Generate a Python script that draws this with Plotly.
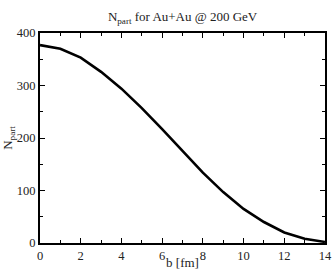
import plotly.graph_objects as go

b_fm = [0, 1, 2, 3, 4, 5, 6, 7, 8, 9, 10, 11, 12, 13, 14]
n_part = [377, 370, 353, 326, 294, 257, 217, 175, 134, 97, 65, 40, 20, 8, 2]

font = "Liberation Serif"

fig = go.Figure()
fig.add_trace(go.Scatter(x=b_fm, y=n_part, mode="lines",
                         line=dict(color="black", width=2.6), showlegend=False))

axis_common = dict(showgrid=False, zeroline=False, showline=True, linecolor="black",
                   linewidth=2, mirror="allticks", ticks="inside", ticklen=5,
                   tickwidth=1.3, tickcolor="black", automargin=False,
                   tickfont=dict(family=font, size=12.5, color="#222"))

fig.update_xaxes(range=[0, 14], dtick=2, tick0=0,
                 minor=dict(dtick=1, ticks="inside", ticklen=3, tickwidth=1.3, tickcolor="black"),
                 title=dict(text="b [fm]", font=dict(family=font, size=13, color="#222"), standoff=0),
                 **axis_common)
fig.update_yaxes(range=[0, 400], dtick=100, tick0=0,
                 minor=dict(dtick=50, ticks="inside", ticklen=3, tickwidth=1.3, tickcolor="black"),
                 title=dict(text="N<sub>part</sub>", font=dict(family=font, size=13, color="#222"), standoff=4),
                 **axis_common)

fig.update_layout(
    width=332, height=270,
    margin=dict(l=40, r=7, t=33, b=27),
    paper_bgcolor="white", plot_bgcolor="white",
    title=dict(text="N<sub>part</sub> for Au+Au @ 200 GeV", x=0.55, xanchor="center",
               y=0.955, yanchor="top", font=dict(family=font, size=13, color="#222")),
)

fig.write_html("out.html", config={"displayModeBar": False},
               post_script="document.body.style.margin='0px';")
